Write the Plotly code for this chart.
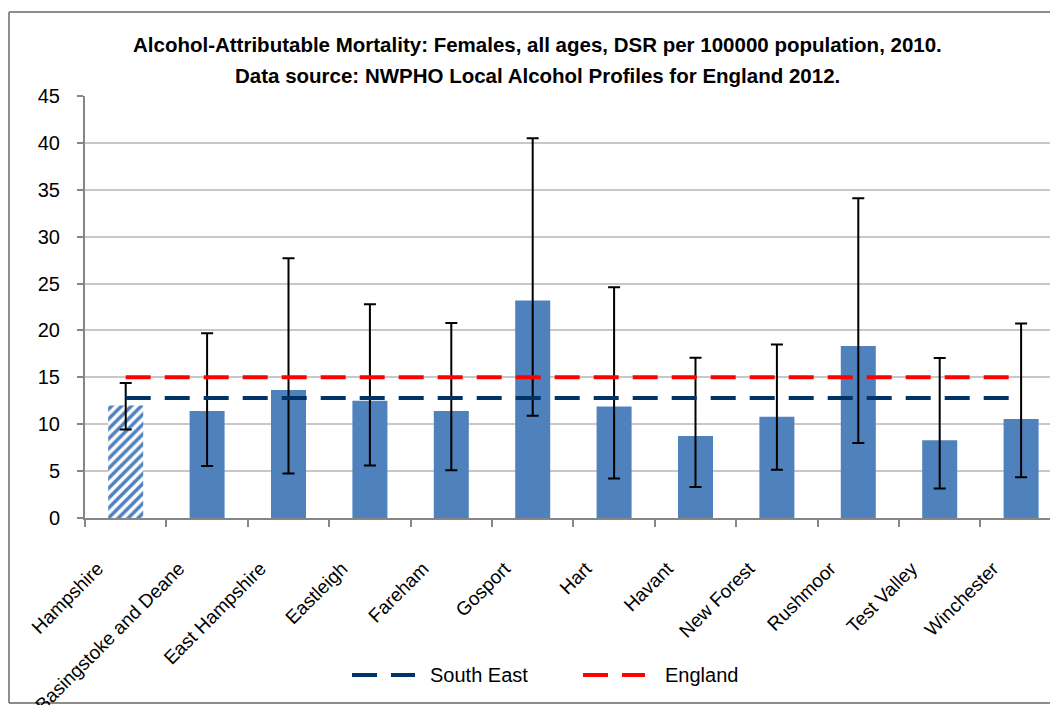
import plotly.graph_objects as go

categories = ["Hampshire", "Basingstoke and Deane", "East Hampshire", "Eastleigh", "Fareham",
              "Gosport", "Hart", "Havant", "New Forest", "Rushmoor", "Test Valley", "Winchester"]
values = [12.0, 11.4, 13.65, 12.5, 11.4, 23.2, 11.9, 8.75, 10.8, 18.35, 8.3, 10.55]
upper_ci = [14.4, 19.7, 27.7, 22.8, 20.8, 40.5, 24.6, 17.1, 18.5, 34.1, 17.05, 20.75]
lower_ci = [9.45, 5.55, 4.75, 5.6, 5.1, 10.9, 4.2, 3.3, 5.15, 8.0, 3.15, 4.35]
south_east = [12.8] * len(categories)
england = [15.0] * len(categories)
title_lines = ["Alcohol-Attributable Mortality: Females, all ages, DSR per 100000 population, 2010.",
               "Data source: NWPHO Local Alcohol Profiles for England 2012."]

FONT = "Liberation Sans, Arial, sans-serif"
BAR = "#4F81BD"
SE_COLOR = "#003366"
EN_COLOR = "#FF0000"
DASH = "25px,14px"
FRAME = "#8C8C8C"

err_plus = [u - v for u, v in zip(upper_ci, values)]
err_minus = [v - l for v, l in zip(values, lower_ci)]
shapes = ["/"] + [""] * (len(categories) - 1)

fig = go.Figure()
fig.add_trace(go.Bar(
    x=categories, y=values, showlegend=False, name="DSR",
    marker=dict(color=BAR, line=dict(width=0),
                pattern=dict(shape=shapes, fgcolor=BAR, bgcolor="white",
                             size=7, solidity=0.5, fillmode="replace")),
    error_y=dict(type="data", symmetric=False, array=err_plus, arrayminus=err_minus,
                 color="black", thickness=2, width=6),
))
fig.add_trace(go.Scatter(
    x=categories, y=south_east, mode="lines", name="South East", showlegend=False,
    line=dict(color=SE_COLOR, width=4, dash=DASH),
))
fig.add_trace(go.Scatter(
    x=categories, y=england, mode="lines", name="England", showlegend=False,
    line=dict(color=EN_COLOR, width=4, dash=DASH),
))

# outer chart frame (left, top, bottom edges; right edge lies beyond the view)
FX0, FX1, FY0, FY1 = -0.0788, 1.0, -0.4384, 1.199
for x0, x1, y0, y1 in [(FX0, FX0, FY0, FY1), (FX0, FX1, FY1, FY1), (FX0, FX1, FY0, FY0)]:
    fig.add_shape(type="line", xref="paper", yref="paper", x0=x0, x1=x1, y0=y0, y1=y1,
                  line=dict(color=FRAME, width=2), layer="below")

# legend (drawn manually to match the long dashed keys)
legend_items = [("South East", SE_COLOR, 0.2767, 0.3420, 0.3554),
                ("England", EN_COLOR, 0.5161, 0.5803, 0.5990)]
for name, col, lx0, lx1, tx in legend_items:
    fig.add_shape(type="line", xref="paper", yref="paper", x0=lx0, x1=lx1, y0=-0.372, y1=-0.372,
                  line=dict(color=col, width=4, dash=DASH))
    fig.add_annotation(xref="paper", yref="paper", x=tx, y=-0.372, text=name, showarrow=False,
                       xanchor="left", yanchor="middle", font=dict(family=FONT, size=20, color="black"))

# title lines
for txt, ty in zip(title_lines, [1.1209, 1.0474]):
    fig.add_annotation(xref="paper", yref="paper", x=0.4694, y=ty, text="<b>" + txt + "</b>",
                       showarrow=False, xanchor="center", yanchor="middle",
                       font=dict(family=FONT, size=20.5, color="black"))

fig.update_layout(
    width=1042, height=697,
    margin=dict(l=77, r=0, t=88, b=187),
    paper_bgcolor="white", plot_bgcolor="white",
    bargap=0.57, showlegend=False,
    font=dict(family=FONT, size=17, color="black"),
    xaxis=dict(
        range=[-0.5, 11.355], tickangle=-45, tickson="boundaries",
        ticks="outside", ticklen=7, tickcolor="#868686", tickwidth=2,
        showline=True, linecolor="#868686", linewidth=2, automargin=False,
        showgrid=False, tickfont=dict(family=FONT, size=19),
        ticklabelstandoff=30, ticklabelshift=-28,
    ),
    yaxis=dict(
        range=[0, 45], dtick=5, ticks="outside", ticklen=6, tickcolor="#868686", tickwidth=2,
        showline=True, linecolor="#868686", linewidth=2, automargin=False,
        showgrid=True, gridcolor="#C8C8C8", gridwidth=2,
        tickfont=dict(family=FONT, size=20), zeroline=False, ticklabelstandoff=13,
    ),
)

fig.write_html("out.html")
